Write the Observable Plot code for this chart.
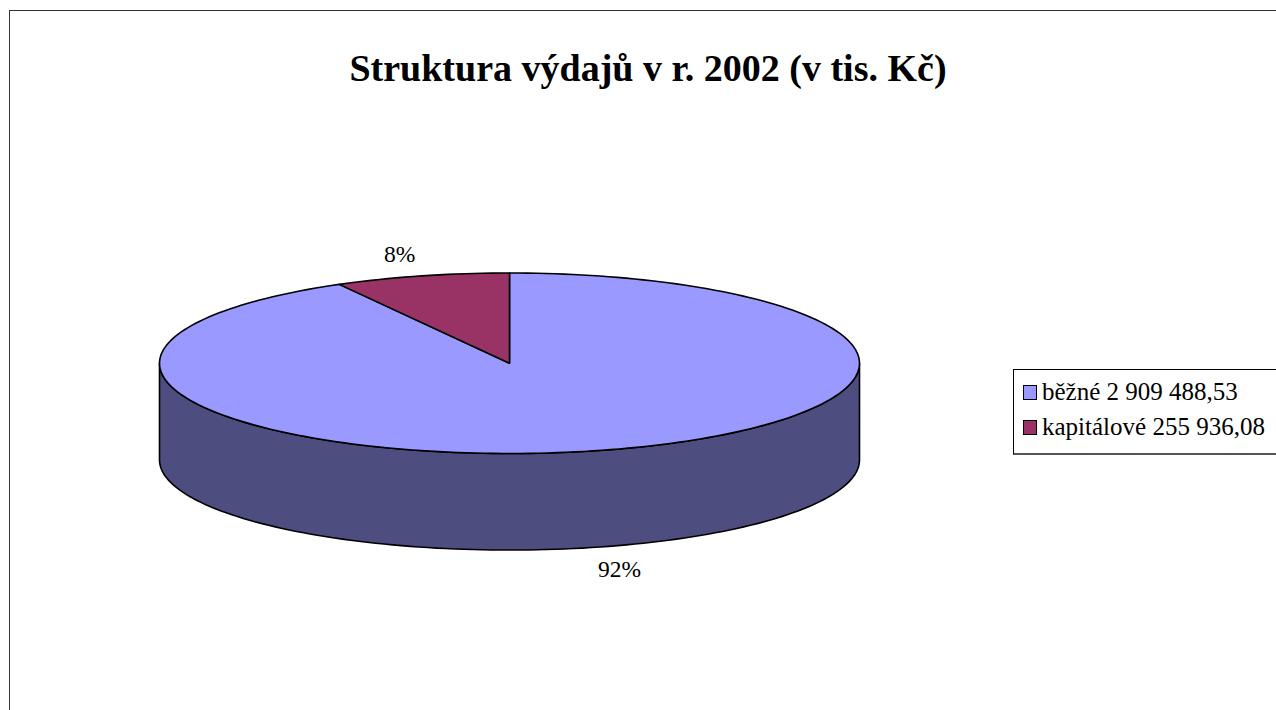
<!DOCTYPE html>
<html>
<head>
<meta charset="utf-8">
<script src="https://cdn.jsdelivr.net/npm/d3@7"></script>
<script src="https://cdn.jsdelivr.net/npm/@observablehq/plot@0.6"></script>
<style>
  html, body { margin: 0; padding: 0; background: #fff; }
  #wrap { position: relative; width: 1276px; height: 710px; overflow: hidden; font-family: "Liberation Serif", "Times New Roman", serif; }
  #frame { position: absolute; left: 9px; top: 10px; width: 1300px; height: 760px; border: 1.5px solid #333; box-sizing: border-box; }
  #chart { position: absolute; left: 0; top: 0; }
  #title { position: absolute; left: 0; width: 1296px; top: 45px; text-align: center; font-family: "Liberation Serif", serif; font-weight: bold; font-size: 38px; line-height: 46px; color: #000; white-space: nowrap; }
  #legend { position: absolute; left: 1013px; top: 369px; width: 300px; height: 86px; border: 1px solid #000; border-bottom: 2px solid #555; box-sizing: border-box; background: #fff; }
  .item { position: absolute; left: 9px; display: flex; align-items: center; font-family: "Liberation Serif", serif; font-size: 25px; line-height: 30px; white-space: nowrap; color: #000; }
  .sw { width: 14px; height: 15px; border: 1.5px solid #000; box-sizing: border-box; margin-right: 5px; }
</style>
</head>
<body>
<div id="wrap">
  <div id="frame"></div>
  <div id="chart"></div>
  <div id="title"></div>
  <div id="legend"></div>
</div>
<script>
// ---- data ----
const title = "Struktura výdajů v r. 2002 (v tis. Kč)";
const categories = ["běžné", "kapitálové"];
const values = [2909488.53, 255936.08];
const legendLabels = ["běžné 2 909 488,53", "kapitálové 255 936,08"];
const topColors = ["#9999ff", "#993366"];
const sideColors = ["#4d4d7f", "#4d1a33"];

// ---- layout ----
const depth = 1.07;      // cylinder height in y-units (y radius = 1)
const labelR = 1.25;     // label radius factor
const total = d3.sum(values);

// slices: clockwise from 12 o'clock (Excel convention)
let acc = 0;
const slices = categories.map((c, i) => {
  const a0 = acc / total * 2 * Math.PI;
  acc += values[i];
  const a1 = acc / total * 2 * Math.PI;
  return {c, i, a0, a1, share: values[i] / total};
});

const N = 240;
function arc(a0, a1, dy = 0) {
  const n = Math.max(2, Math.ceil(N * (a1 - a0) / (2 * Math.PI)));
  return d3.range(n + 1).map(k => {
    const a = a0 + (a1 - a0) * k / n;
    return [Math.sin(a), Math.cos(a) - dy];
  });
}

// top faces
const topPts = [];
for (const s of slices) {
  const pts = [[0, 0], ...arc(s.a0, s.a1), [0, 0]];
  pts.forEach(([x, y]) => topPts.push({x, y, c: s.c, fill: topColors[s.i]}));
}

// visible front side walls (angles between pi/2 and 3pi/2)
const sidePts = [];
for (const s of slices) {
  const b0 = Math.max(s.a0, Math.PI / 2), b1 = Math.min(s.a1, 3 * Math.PI / 2);
  if (b1 <= b0) continue;
  const pts = [...arc(b0, b1), ...arc(b0, b1, depth).reverse()];
  pts.forEach(([x, y]) => sidePts.push({x, y, c: s.c, fill: sideColors[s.i]}));
}

// percentage labels
const labels = slices.map(s => {
  const m = (s.a0 + s.a1) / 2;
  const cy = Math.cos(m);
  return {
    x: labelR * Math.sin(m),
    y: labelR * cy - (cy < 0 ? depth : 0),
    text: Math.round(s.share * 100) + "%"
  };
});

const chart = Plot.plot({
  width: 1276,
  height: 710,
  margin: 0,
  x: {domain: [-1, 1], range: [159, 859], axis: null},
  y: {domain: [-1, 1], range: [453, 272.5], axis: null},
  style: {background: "transparent", overflow: "visible", fontFamily: "Liberation Serif", fontSize: "23.5px"},
  marks: [
    Plot.line(sidePts, {x: "x", y: "y", z: "c", fill: "fill", stroke: "#000", strokeWidth: 1.6, curve: "linear-closed"}),
    Plot.line(topPts, {x: "x", y: "y", z: "c", fill: "fill", stroke: "#000", strokeWidth: 1.6, curve: "linear-closed"}),
    Plot.text(labels, {x: "x", y: "y", text: "text", fontSize: 23.5, fontFamily: "Liberation Serif", fill: "#000"})
  ]
});
document.getElementById("chart").appendChild(chart);

document.getElementById("title").textContent = title;

const legend = document.getElementById("legend");
legendLabels.forEach((t, i) => {
  const d = document.createElement("div");
  d.className = "item";
  d.style.top = (i === 0 ? 7 : 42) + "px";
  const sw = document.createElement("span");
  sw.className = "sw";
  sw.style.background = topColors[i];
  const tx = document.createElement("span");
  tx.textContent = t;
  d.appendChild(sw);
  d.appendChild(tx);
  legend.appendChild(d);
});
</script>
</body>
</html>
